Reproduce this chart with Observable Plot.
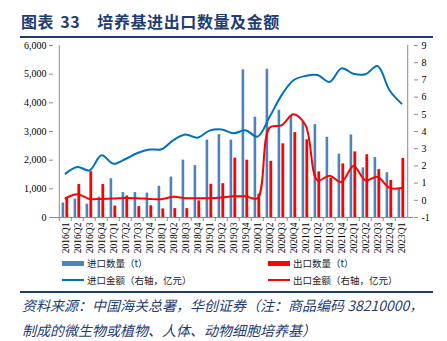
<!DOCTYPE html>
<html>
<head>
<meta charset="utf-8">
<script src="https://cdn.jsdelivr.net/npm/d3@7"></script>
<script src="https://cdn.jsdelivr.net/npm/@observablehq/plot@0.6"></script>
<style>
  html, body { margin: 0; padding: 0; background: #fff; }
  #wrap { position: relative; width: 447px; height: 341px; overflow: hidden; background: #fff; }
  .title { position: absolute; left: 21px; top: 9px; font-family: "Noto Sans CJK SC", sans-serif; font-weight: 700; font-size: 16px; color: #1f3d73; white-space: nowrap; letter-spacing: 0.6px; }
  .title .num { margin-left: 6px; margin-right: 17px; }
  .hr { position: absolute; left: 20px; width: 413px; height: 2px; background: #1f3d73; }
  #chart { position: absolute; left: 0; top: 40px; }
  .leg { position: absolute; font-family: "Noto Sans CJK SC", sans-serif; font-size: 9.5px; color: #222; white-space: nowrap; line-height: 12px; }
  .sw { position: absolute; }
  .src { position: absolute; left: 22px; font-family: "Noto Sans CJK SC", sans-serif; font-style: italic; font-size: 14px; color: #1f3d73; white-space: nowrap; line-height: 18px; }
</style>
</head>
<body>
<div id="wrap">
  <div class="title">图表<span class="num">33</span>培养基进出口数量及金额</div>
  <div class="hr" style="top:36px"></div>
  <div id="chart"></div>
  <div class="sw" style="left:62px;top:261px;width:22px;height:5px;background:#4f81bd"></div>
  <div class="leg" style="left:87px;top:257px">进口数量（t）</div>
  <div class="sw" style="left:268px;top:261px;width:22px;height:5px;background:#ff0000"></div>
  <div class="leg" style="left:293px;top:257px">出口数量（t）</div>
  <div class="sw" style="left:62px;top:279px;width:22px;height:2px;background:#0070c0"></div>
  <div class="leg" style="left:87px;top:274px">进口金额（右轴，亿元）</div>
  <div class="sw" style="left:268px;top:279px;width:22px;height:2px;background:#ff0000"></div>
  <div class="leg" style="left:293px;top:274px">出口金额（右轴，亿元）</div>
  <div class="hr" style="top:291px"></div>
  <div class="src" style="top:296px">资料来源：中国海关总署，华创证券（注：商品编码 38210000，</div>
  <div class="src" style="top:321px">制成的微生物或植物、人体、动物细胞培养基）</div>
</div>
<script>
const quarters = [
  "2016Q1","2016Q2","2016Q3","2016Q4",
  "2017Q1","2017Q2","2017Q3","2017Q4",
  "2018Q1","2018Q2","2018Q3","2018Q4",
  "2019Q1","2019Q2","2019Q3","2019Q4",
  "2020Q1","2020Q2","2020Q3","2020Q4",
  "2021Q1","2021Q2","2021Q3","2021Q4",
  "2022Q1","2022Q2","2022Q3","2022Q4",
  "2023Q1"
];
// 进口数量 (t)
const importQty = [510, 640, 465, 710, 1350, 870, 870, 850, 1090, 1410, 2000, 1810,
  2700, 2890, 2700, 5150, 3500, 5170, 3740, 3540, 3340, 3240, 2800, 2210,
  2880, 1730, 2090, 1560, 1000];
// 出口数量 (t)
const exportQty = [670, 1150, 1600, 1150, 400, 750, 380, 410, 300, 310, 310, 580,
  1160, 1180, 2070, 2000, 810, 1960, 2570, 2960, 2710, 1590, 1360, 1870,
  2290, 2190, 1670, 1290, 2060];
// 进口金额 (右轴, 亿元)
const importAmt = [1.55, 1.94, 1.74, 2.62, 2.12, 2.40, 2.75, 2.95, 2.97, 3.50, 3.82, 3.64,
  4.05, 4.12, 3.90, 4.07, 3.70, 4.84, 6.10, 6.98, 7.23, 7.29, 6.88, 7.67,
  7.36, 7.33, 7.81, 6.40, 5.62];
// 出口金额 (右轴, 亿元)
const exportAmt = [0.12, 0.35, 0.08, 0.08, 0.10, 0.14, 0.12, 0.08, 0.06, 0.20, 0.12, 0.12,
  0.12, 0.16, 0.23, 0.23, 0.12, 4.22, 4.36, 5.00, 4.36, 1.16, 1.43, 1.07,
  2.00, 1.16, 1.36, 0.72, 0.72];
const leftTicks = [0, 1000, 2000, 3000, 4000, 5000, 6000];
const rightTicks = [-1, 0, 1, 2, 3, 4, 5, 6, 7, 8, 9];

// right axis (-1..9) mapped onto left axis (0..6000)
const toLeft = r => (r + 1) * 600;
const fromLeft = v => Math.round(v / 600 - 1);

const W = 447, mL = 53, mR = 34;
const bw = (W - mL - mR) / quarters.length;
const axisColor = "#8c8c8c";
const tickFont = "'Liberation Serif', 'Times New Roman', serif";

const chart = Plot.plot({
  width: W,
  height: 220,
  marginLeft: mL,
  marginRight: mR,
  marginTop: 5,
  marginBottom: 43,
  style: {background: "transparent", color: "#000"},
  x: {type: "band", domain: quarters, paddingInner: 0, paddingOuter: 0, axis: null},
  y: {domain: [0, 6000], axis: null},
  marks: [
    Plot.barY(importQty, {x: (d, i) => quarters[i], y: d => d, fill: "#4f81bd", insetLeft: bw / 2 - 3.6, insetRight: bw / 2 + 0.6}),
    Plot.barY(exportQty, {x: (d, i) => quarters[i], y: d => d, fill: "#ff0000", insetLeft: bw / 2 + 0.2, insetRight: bw / 2 - 3.4}),
    Plot.line(importAmt, {x: (d, i) => quarters[i], y: d => toLeft(d), stroke: "#0070c0", strokeWidth: 2, curve: "catmull-rom"}),
    Plot.line(exportAmt, {x: (d, i) => quarters[i], y: d => toLeft(d), stroke: "#ff0000", strokeWidth: 2, curve: "catmull-rom"}),
    // frame lines
    Plot.ruleY([0], {stroke: axisColor}),
    Plot.ruleX([quarters[0]], {x: d => d, dx: -bw / 2, stroke: axisColor}),
    Plot.ruleX([quarters[quarters.length - 1]], {x: d => d, dx: bw / 2, stroke: axisColor}),
    // category boundary ticks
    Plot.ruleX(quarters, {x: d => d, dx: -bw / 2, y1: 0, y2: 0, insetBottom: -4, stroke: axisColor}),
    // left axis
    Plot.axisY(leftTicks, {anchor: "left", tickFormat: d3.format(","), tickSize: 4, tickPadding: 3, stroke: axisColor, fill: "#000", fontSize: 10, fontFamily: tickFont}),
    // right axis
    Plot.axisY(rightTicks.map(toLeft), {anchor: "right", tickFormat: v => String(fromLeft(v)), tickSize: 4, tickPadding: 4, stroke: axisColor, fill: "#000", fontSize: 10, fontFamily: tickFont}),
    // x axis labels
    Plot.axisX(quarters, {anchor: "bottom", tickRotate: -90, tickSize: 0, tickPadding: 5, fill: "#000", fontSize: 9.5, fontFamily: tickFont})
  ]
});
document.getElementById("chart").appendChild(chart);
</script>
</body>
</html>
